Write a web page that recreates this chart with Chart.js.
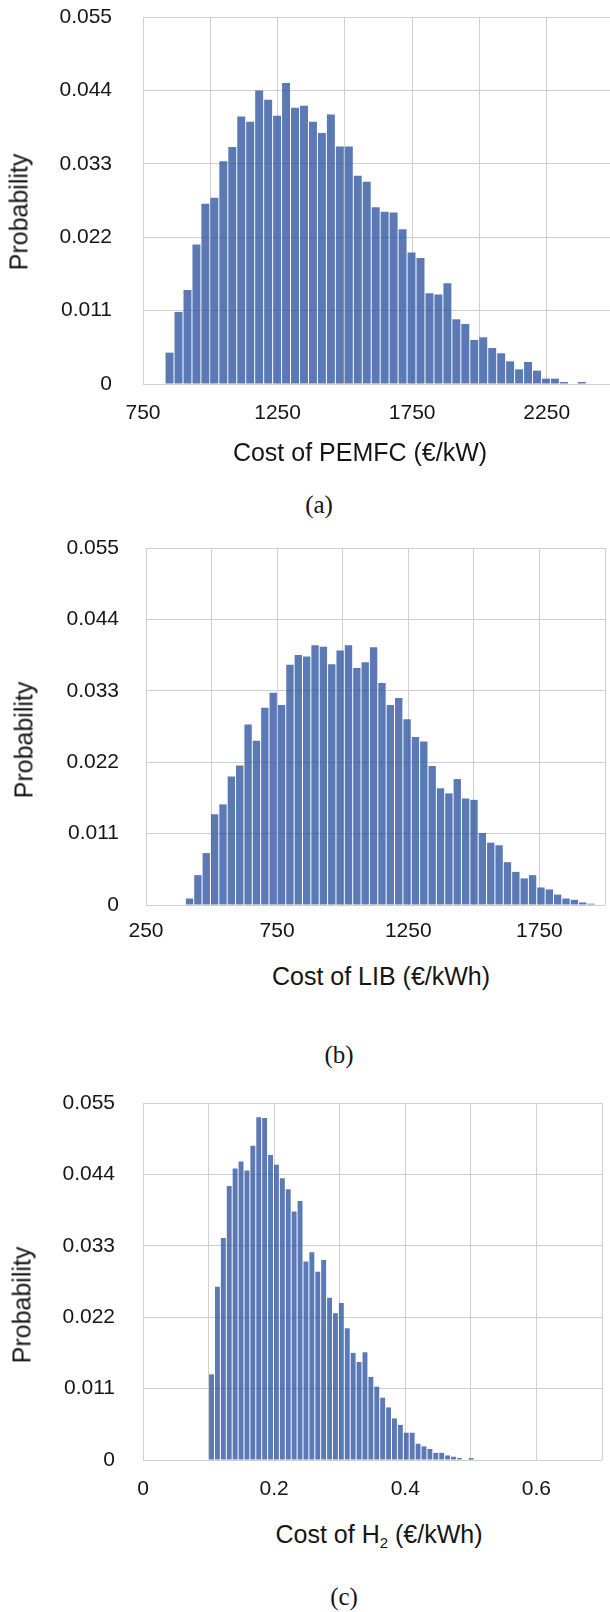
<!DOCTYPE html>
<html>
<head>
<meta charset="utf-8">
<title>Cost distributions</title>
<script src="https://cdn.jsdelivr.net/npm/chart.js@4.4.1/dist/chart.umd.min.js"></script>
<style>
  html, body { margin: 0; padding: 0; background: #fff; overflow: hidden; }
  #page { position: relative; width: 610px; height: 1612px; overflow: hidden; background: #fff; }
  #page canvas { position: absolute; left: 0; }
  .txt {
    position: absolute;
    white-space: nowrap;
    transform: translate(-50%, -50%);
    font-family: 'Liberation Sans', Arial, sans-serif;
    font-size: 25px;
    line-height: 1;
    color: #151515;
  }
  .ytitle { transform: translate(-50%, -50%) rotate(-90deg); }
  .caption { font-family: 'Liberation Serif', 'Times New Roman', serif; font-size: 25px; }
  .txt sub { font-size: 15px; vertical-align: -5px; line-height: 0; }
</style>
</head>
<body>
<div id="page">
  <canvas id="pemfcChart" width="620" height="440" style="top:0px"></canvas>
  <canvas id="libChart" width="610" height="430" style="top:530px"></canvas>
  <canvas id="h2Chart" width="610" height="430" style="top:1085px"></canvas>

  <div class="txt ytitle" style="left:19px; top:212px">Probability</div>
  <div class="txt" style="left:360px; top:452px">Cost of PEMFC (€/kW)</div>
  <div class="txt caption" style="left:319px; top:504px">(a)</div>

  <div class="txt ytitle" style="left:24px; top:740px">Probability</div>
  <div class="txt" style="left:381px; top:976px">Cost of LIB (€/kWh)</div>
  <div class="txt caption" style="left:339px; top:1054px">(b)</div>

  <div class="txt ytitle" style="left:22px; top:1305px">Probability</div>
  <div class="txt" style="left:379px; top:1534px">Cost of H<sub>2</sub> (€/kWh)</div>
  <div class="txt caption" style="left:344px; top:1596px">(c)</div>
</div>

<script>
// probability axis shared by all three histograms
const probTicks = [0, 0.011, 0.022, 0.033, 0.044, 0.055];

// (a) PEMFC cost, €/kW
const pemfcBinStart = 832;
const pemfcBinWidth = 33.3;
const pemfcProb = [
  0.0047, 0.0108, 0.0141, 0.0209, 0.0270, 0.0279, 0.0334, 0.0355, 0.0401, 0.0393,
  0.0440, 0.0426, 0.0402, 0.0451, 0.0414, 0.0417, 0.0393, 0.0376, 0.0404, 0.0356,
  0.0356, 0.0312, 0.0303, 0.0265, 0.0258, 0.0257, 0.0232, 0.0197, 0.0189, 0.0136,
  0.0134, 0.0151, 0.0097, 0.0090, 0.0066, 0.0070, 0.0054, 0.0046, 0.0034, 0.0022,
  0.0033, 0.0020, 0.0008, 0.0008, 0.0003, 0, 0.0003
];
const pemfcGrid = [750, 1000, 1250, 1500, 1750, 2000, 2250, 2500];
const pemfcLabels = [750, 1250, 1750, 2250];

// (b) LIB cost, €/kWh
const libBinStart = 400;
const libBinWidth = 31.9;
const libProb = [
  0.0010, 0.0046, 0.0080, 0.0140, 0.0155, 0.0198, 0.0215, 0.0278, 0.0253, 0.0304,
  0.0327, 0.0308, 0.0370, 0.0385, 0.0383, 0.0400, 0.0398, 0.0371, 0.0392, 0.0400,
  0.0365, 0.0374, 0.0397, 0.0342, 0.0308, 0.0319, 0.0286, 0.0259, 0.0252, 0.0214,
  0.0180, 0.0172, 0.0194, 0.0164, 0.0162, 0.0111, 0.0096, 0.0092, 0.0066, 0.0051,
  0.0041, 0.0046, 0.0027, 0.0024, 0.0016, 0.0010, 0.0008, 0.0004, 0.0002
];
const libGrid = [250, 500, 750, 1000, 1250, 1500, 1750, 2000];
const libLabels = [250, 750, 1250, 1750];

// (c) H2 cost, €/kWh
const h2BinStart = 0.1;
const h2BinWidth = 0.009;
const h2Prob = [
  0.0132, 0.0267, 0.0342, 0.0422, 0.0449, 0.0460, 0.0446, 0.0484, 0.0528, 0.0527,
  0.0470, 0.0455, 0.0434, 0.0417, 0.0383, 0.0399, 0.0306, 0.0320, 0.0290, 0.0308,
  0.0250, 0.0226, 0.0242, 0.0203, 0.0165, 0.0151, 0.0166, 0.0128, 0.0113, 0.0096,
  0.0081, 0.0064, 0.0054, 0.0042, 0.0042, 0.0025, 0.0021, 0.0017, 0.0011, 0.0011,
  0.0007, 0.0005, 0.0003, 0, 0.0003
];
const h2Grid = [0, 0.1, 0.2, 0.3, 0.4, 0.5, 0.6, 0.7];
const h2Labels = [0, 0.2, 0.4, 0.6];

const BAR_COLOR = 'rgba(45, 85, 160, 0.78)';
const GRID_COLOR = '#cfcfcf';
const TEXT_COLOR = '#151515';
const TICK_FONT = { family: "'Liberation Sans', Arial, sans-serif", size: 21 };

Chart.defaults.font.family = TICK_FONT.family;

function makeHistogram(canvasId, cfg) {
  const ctx = document.getElementById(canvasId).getContext('2d');

  // one bar per bin, placed at the bin centre
  const points = cfg.probs.map((p, i) => ({
    x: cfg.binStart + cfg.binWidth * (i + 0.5),
    y: p
  }));

  return new Chart(ctx, {
    type: 'bar',
    data: {
      datasets: [{
        data: points,
        backgroundColor: BAR_COLOR,
        borderWidth: 0,
        barPercentage: cfg.barPct,
        categoryPercentage: 1
      }]
    },
    options: {
      responsive: false,
      animation: false,
      layout: { padding: cfg.padding },
      plugins: {
        legend: { display: false },
        tooltip: { enabled: false }
      },
      scales: {
        x: {
          type: 'linear',
          min: cfg.grid[0],
          max: cfg.grid[cfg.grid.length - 1],
          offset: false,
          afterBuildTicks: scale => {
            scale.ticks = cfg.grid.map(v => ({ value: v }));
          },
          afterFit: scale => {
            // fixed axis band; label overhang is handled by the layout padding
            scale.height = cfg.xAxisHeight;
            scale.paddingLeft = 0;
            scale.paddingRight = 0;
          },
          grid: { color: GRID_COLOR, lineWidth: 1, drawTicks: false, offset: false },
          border: { display: false },
          ticks: {
            autoSkip: false,
            maxRotation: 0,
            padding: cfg.xPad,
            color: TEXT_COLOR,
            font: TICK_FONT,
            callback: v => cfg.labels.includes(v) ? String(v) : ''
          }
        },
        y: {
          min: 0,
          max: 0.055,
          afterBuildTicks: scale => {
            scale.ticks = probTicks.map(v => ({ value: v }));
          },
          afterFit: scale => {
            scale.width = cfg.yAxisWidth;
            scale.paddingTop = 0;
            scale.paddingBottom = 0;
          },
          grid: { color: GRID_COLOR, lineWidth: 1, drawTicks: false },
          border: { display: false },
          ticks: {
            padding: cfg.yPad,
            color: TEXT_COLOR,
            font: TICK_FONT,
            callback: v => v === 0 ? '0' : v.toFixed(3)
          }
        }
      }
    }
  });
}

makeHistogram('pemfcChart', {
  probs: pemfcProb, binStart: pemfcBinStart, binWidth: pemfcBinWidth,
  grid: pemfcGrid, labels: pemfcLabels,
  padding: { top: 17, right: 6, left: 0, bottom: 0 },
  yAxisWidth: 143, xAxisHeight: 56, xPad: 17, yPad: 31, barPct: 0.89
});

makeHistogram('libChart', {
  probs: libProb, binStart: libBinStart, binWidth: libBinWidth,
  grid: libGrid, labels: libLabels,
  padding: { top: 18, right: 5, left: 0, bottom: 0 },
  yAxisWidth: 146, xAxisHeight: 55, xPad: 14, yPad: 27, barPct: 0.88
});

makeHistogram('h2Chart', {
  probs: h2Prob, binStart: h2BinStart, binWidth: h2BinWidth,
  grid: h2Grid, labels: h2Labels,
  padding: { top: 18, right: 8, left: 0, bottom: 0 },
  yAxisWidth: 143, xAxisHeight: 55, xPad: 17, yPad: 28, barPct: 0.83
});
</script>
</body>
</html>
